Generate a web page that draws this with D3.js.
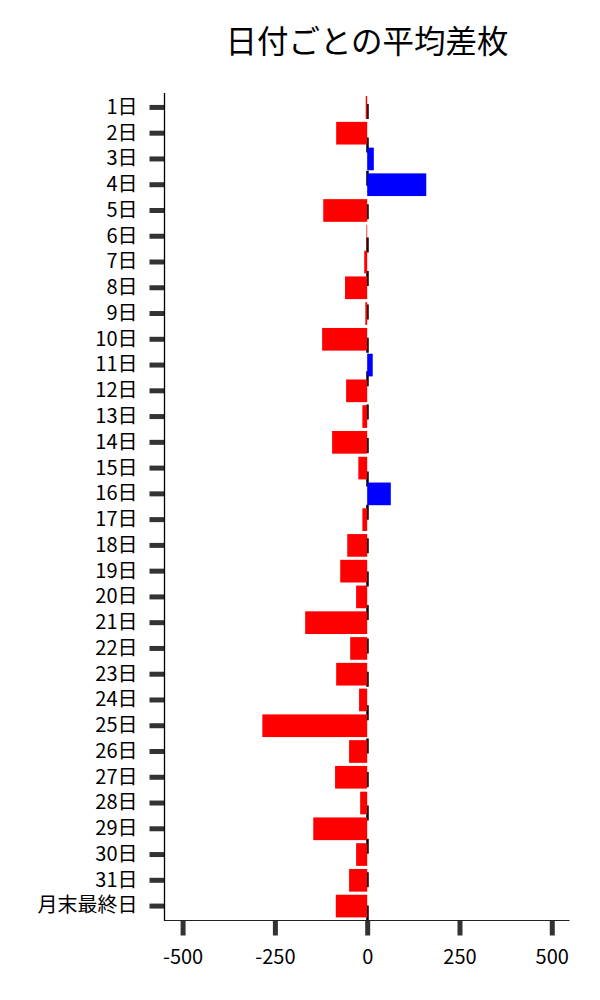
<!DOCTYPE html>
<html>
<head>
<meta charset="utf-8">
<script src="https://cdn.jsdelivr.net/npm/d3@7"></script>
<style>
  html, body { margin: 0; padding: 0; background: #fff; }
  svg text { font-family: "Noto Sans CJK JP", "Noto Sans", sans-serif; }
</style>
</head>
<body>
<svg id="chart" width="600" height="1000"></svg>
<script>
const title = "日付ごとの平均差枚";
const categories = ["1日","2日","3日","4日","5日","6日","7日","8日","9日","10日",
  "11日","12日","13日","14日","15日","16日","17日","18日","19日","20日",
  "21日","22日","23日","24日","25日","26日","27日","28日","29日","30日",
  "31日","月末最終日"];
const values = [-4, -84, 18, 160, -119, -2, -8, -60, -5, -122,
  15, -57, -13, -95, -24, 64, -13, -54, -73, -30,
  -168, -46, -84, -22, -284, -49, -87, -19, -146, -30,
  -49, -85];
const xTicks = [-500, -250, 0, 250, 500];
const xTickLabels = ["-500", "-250", "0", "250", "500"];
const xDomain = [-549, 548];

(function () {
const svg = d3.select("#chart");
const L = 164.5, R = 569.5, T = 93, B = 920.5;

const x = d3.scaleLinear().domain(xDomain).range([L, R]);
const y = d3.scaleBand().domain(categories).range([T, B])
  .paddingInner(0.12).paddingOuter(0.12);

// zero dashed line (behind bars)
svg.append("line")
  .attr("x1", x(0) + 0.3).attr("x2", x(0) + 0.3)
  .attr("y1", T).attr("y2", B)
  .attr("stroke", "#000").attr("stroke-width", 2.5)
  .attr("stroke-dasharray", "15,18.4")
  .attr("stroke-dashoffset", 22.4);

// bars
svg.append("g").selectAll("rect")
  .data(categories.map((c, i) => ({c, v: values[i]})))
  .join("rect")
  .attr("x", d => x(Math.min(0, d.v)))
  .attr("width", d => Math.abs(x(d.v) - x(0)))
  .attr("y", d => y(d.c))
  .attr("height", y.bandwidth())
  .attr("fill", d => d.v < 0 ? "#ff0000" : "#0000ff");

// y axis
const yAxis = svg.append("g")
  .attr("transform", `translate(${L},0)`)
  .call(d3.axisLeft(y).tickSize(15).tickPadding(12));
yAxis.select(".domain").remove();
yAxis.selectAll(".tick line").attr("stroke", "#333").attr("stroke-width", 5);
yAxis.selectAll(".tick text")
  .attr("fill", "#000").style("font-size", "20px");

// x axis
const xAxis = svg.append("g")
  .attr("transform", `translate(0,${B})`)
  .call(d3.axisBottom(x).tickValues(xTicks).tickSize(15).tickPadding(14)
    .tickFormat((d, i) => xTickLabels[i]));
xAxis.select(".domain").remove();
xAxis.selectAll(".tick line").attr("stroke", "#333").attr("stroke-width", 5);
xAxis.selectAll(".tick text")
  .attr("fill", "#000").style("font-size", "20px");

// spines
svg.append("line").attr("x1", L).attr("x2", L)
  .attr("y1", T).attr("y2", B + 0.5)
  .attr("stroke", "#000").attr("stroke-width", 1.3);
svg.append("line").attr("x1", L).attr("x2", R)
  .attr("y1", B).attr("y2", B)
  .attr("stroke", "#222").attr("stroke-width", 1.2);

// title
svg.append("text")
  .attr("x", (L + R) / 2).attr("y", 53)
  .attr("text-anchor", "middle")
  .style("font-size", "31.5px")
  .attr("fill", "#000")
  .text(title);
})();
</script>
</body>
</html>
